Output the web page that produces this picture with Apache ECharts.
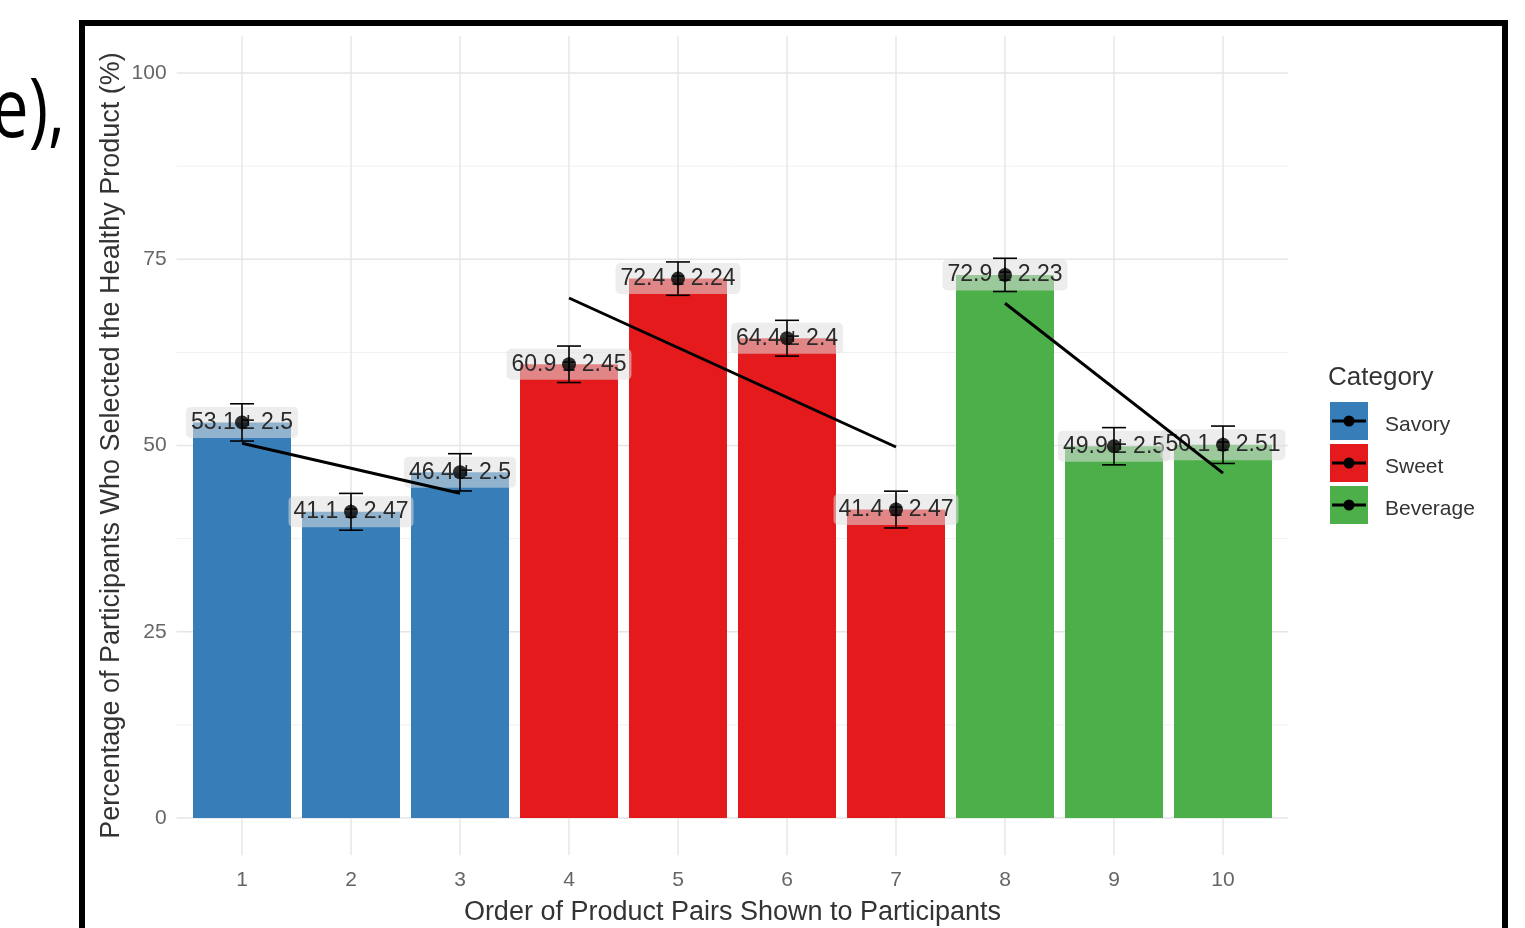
<!DOCTYPE html>
<html>
<head>
<meta charset="utf-8">
<script src="https://cdn.jsdelivr.net/npm/echarts@6/dist/echarts.min.js"></script>
<style>
  html, body { margin: 0; padding: 0; background: #fff; }
  #chart { width: 1525px; height: 928px; }
</style>
</head>
<body>
<div id="chart"></div>
<script>
// ---------------- data ----------------
const orderValues = [1, 2, 3, 4, 5, 6, 7, 8, 9, 10];
const orderLabels = ['1', '2', '3', '4', '5', '6', '7', '8', '9', '10'];
const categoryNames = ['Savory', 'Sweet', 'Beverage'];
const savoryOrders = [1, 2, 3];
const sweetOrders = [4, 5, 6, 7];
const beverageOrders = [8, 9, 10];
const meanPercent = [53.1, 41.1, 46.4, 60.9, 72.4, 64.4, 41.4, 72.9, 49.9, 50.1];
const standardErrors = [2.5, 2.47, 2.5, 2.45, 2.24, 2.4, 2.47, 2.23, 2.5, 2.51];
const savoryTrend = [[1, 50.3], [3, 43.6]];
const sweetTrend = [[4, 69.8], [7, 49.8]];
const beverageTrend = [[8, 69.1], [10, 46.3]];
const yTickValues = [0, 25, 50, 75, 100];
const yMinorValues = [12.5, 37.5, 62.5, 87.5];

// ---------------- styles ----------------
const colors = { Savory: '#377EB8', Sweet: '#E41A1C', Beverage: '#4DAF4A' };
const FONT = 'Liberation Sans, Arial, sans-serif';

function keyIcon(color) {
  const svg = '<svg xmlns="http://www.w3.org/2000/svg" width="38" height="38">' +
    '<rect width="38" height="38" fill="' + color + '"/>' +
    '<line x1="2" y1="19" x2="36" y2="19" stroke="black" stroke-width="3"/>' +
    '<circle cx="19" cy="19" r="5.5" fill="black"/></svg>';
  return 'image://data:image/svg+xml;charset=utf-8,' + encodeURIComponent(svg);
}

function barData(orders) {
  return orders.map(o => [o, meanPercent[orderValues.indexOf(o)]]);
}

const chart = echarts.init(document.getElementById('chart'), null, { renderer: 'canvas' });

const option = {
  animation: false,
  backgroundColor: '#ffffff',
  grid: { left: 176.6, right: 236.6, top: 35.75, bottom: 72.75, containLabel: false, outerBoundsMode: 'none' },
  xAxis: {
    type: 'value', min: 0.4, max: 10.6,
    name: 'Order of Product Pairs Shown to Participants',
    nameLocation: 'middle', nameGap: 44, nameMoveOverlap: false,
    nameTextStyle: { fontFamily: FONT, fontSize: 27, color: '#333' },
    axisLine: { show: false }, axisTick: { show: false }, splitLine: { show: false },
    axisLabel: {
      customValues: orderValues,
      formatter: v => orderLabels[orderValues.indexOf(v)] || '',
      margin: 14, fontFamily: FONT, fontSize: 21, color: '#666'
    }
  },
  yAxis: {
    type: 'value', min: -5, max: 105,
    name: 'Percentage of Participants Who Selected the Healthy Product (%)',
    nameLocation: 'middle', nameGap: 52, nameMoveOverlap: false,
    nameTextStyle: { fontFamily: FONT, fontSize: 27, color: '#333' },
    axisLine: { show: false }, axisTick: { show: false }, splitLine: { show: false },
    axisLabel: { customValues: yTickValues, margin: 10, fontFamily: FONT, fontSize: 21, color: '#666' }
  },
  legend: {
    orient: 'vertical', left: 1330, top: 402, padding: 0,
    itemWidth: 38, itemHeight: 38, itemGap: 4,
    selectedMode: false,
    formatter: name => '{t|' + name + '}',
    textStyle: {
      fontFamily: FONT, fontSize: 21, color: '#333',
      rich: { t: { fontFamily: FONT, fontSize: 21, color: '#333', padding: [9, 0, 0, 12] } }
    },
    data: categoryNames.map(n => ({ name: n, icon: keyIcon(colors[n]) }))
  },
  graphic: [
    { type: 'rect', shape: { x: 82, y: 23, width: 1423, height: 1000 },
      style: { fill: 'none', stroke: '#000', lineWidth: 6 }, z: 100 },
    { type: 'text', x: 65, y: 114, scaleX: 0.8,
      style: { text: 'e),', font: '82px "Open Sans", sans-serif', fill: '#000', align: 'right', verticalAlign: 'middle' } },
    { type: 'text', x: 1328, y: 378,
      style: { text: 'Category', font: '26px ' + FONT, fill: '#333', align: 'left', verticalAlign: 'middle' } }
  ],
  series: [
    { // horizontal gridlines
      type: 'custom', z: 1, silent: true,
      data: yTickValues.map(v => [v, 1]).concat(yMinorValues.map(v => [v, 0])),
      encode: { y: 0 },
      renderItem: (params, api) => {
        const cs = params.coordSys;
        const y = api.coord([1, api.value(0)])[1];
        const major = api.value(1) === 1;
        return { type: 'line', shape: { x1: cs.x, y1: y, x2: cs.x + cs.width, y2: y },
          style: { stroke: major ? '#e6e6e6' : '#f0f0f0', lineWidth: major ? 1.4 : 1 } };
      }
    },
    { // vertical gridlines
      type: 'custom', z: 1, silent: true,
      data: orderValues.map(v => [v]),
      encode: { x: 0 },
      renderItem: (params, api) => {
        const cs = params.coordSys;
        const x = api.coord([api.value(0), 0])[0];
        return { type: 'line', shape: { x1: x, y1: cs.y, x2: x, y2: cs.y + cs.height },
          style: { stroke: '#e6e6e6', lineWidth: 1.4 } };
      }
    },
    { name: 'Savory', type: 'bar', z: 2, barWidth: 98, barGap: '-100%',
      itemStyle: { color: colors.Savory }, data: barData(savoryOrders) },
    { name: 'Sweet', type: 'bar', z: 2, barWidth: 98, barGap: '-100%',
      itemStyle: { color: colors.Sweet }, data: barData(sweetOrders) },
    { name: 'Beverage', type: 'bar', z: 2, barWidth: 98, barGap: '-100%',
      itemStyle: { color: colors.Beverage }, data: barData(beverageOrders) },
    { // value labels
      type: 'custom', z: 3, silent: true,
      data: orderValues.map((o, i) => [o, meanPercent[i], standardErrors[i]]),
      encode: { x: 0, y: 1 },
      renderItem: (params, api) => {
        const i = params.dataIndex;
        const p = api.coord([api.value(0), api.value(1)]);
        return { type: 'text', x: p[0], y: p[1],
          style: { text: meanPercent[i] + ' \u00b1 ' + standardErrors[i],
            font: '23px ' + FONT, fill: '#2a2a2a', align: 'center', verticalAlign: 'middle',
            backgroundColor: 'rgba(222,222,222,0.55)', padding: [4, 5, 4, 5], borderRadius: 5 } };
      }
    },
    { // error bars
      type: 'custom', z: 4, silent: true,
      data: orderValues.map((o, i) => [o, meanPercent[i], standardErrors[i]]),
      encode: { x: 0, y: 1 },
      renderItem: (params, api) => {
        const x = api.value(0), m = api.value(1), se = api.value(2);
        const top = api.coord([x, m + se]);
        const bot = api.coord([x, m - se]);
        const hw = 12;
        const st = { stroke: '#000', lineWidth: 1.6 };
        return { type: 'group', children: [
          { type: 'line', shape: { x1: top[0], y1: top[1], x2: bot[0], y2: bot[1] }, style: st },
          { type: 'line', shape: { x1: top[0] - hw, y1: top[1], x2: top[0] + hw, y2: top[1] }, style: st },
          { type: 'line', shape: { x1: bot[0] - hw, y1: bot[1], x2: bot[0] + hw, y2: bot[1] }, style: st }
        ] };
      }
    },
    { type: 'scatter', z: 5, symbol: 'circle', symbolSize: 14, silent: true,
      itemStyle: { color: '#000' },
      data: orderValues.map((o, i) => [o, meanPercent[i]]) },
    { type: 'line', z: 6, symbol: 'none', silent: true, lineStyle: { color: '#000', width: 3 }, data: savoryTrend },
    { type: 'line', z: 6, symbol: 'none', silent: true, lineStyle: { color: '#000', width: 3 }, data: sweetTrend },
    { type: 'line', z: 6, symbol: 'none', silent: true, lineStyle: { color: '#000', width: 3 }, data: beverageTrend }
  ]
};

chart.setOption(option);
</script>
</body>
</html>
